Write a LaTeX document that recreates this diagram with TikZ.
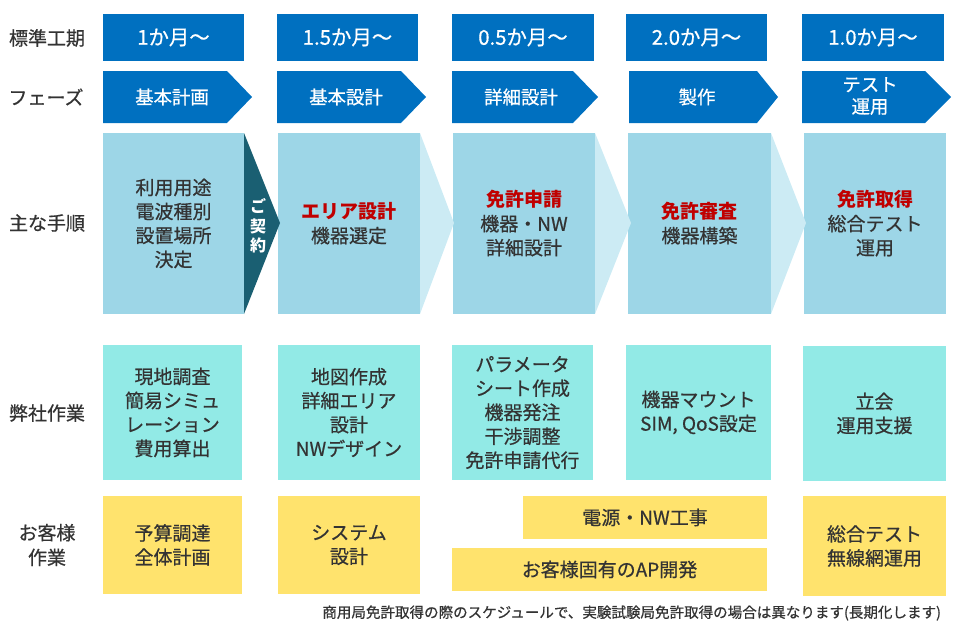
\documentclass[tikz,border=0pt]{standalone}
\usepackage{fontspec}
\setmainfont{Noto Sans CJK JP}[UprightFeatures={FakeBold=0.6}]
\definecolor{cblue}{HTML}{0070C0}
\definecolor{cmain}{HTML}{9DD6E7}
\definecolor{clight}{HTML}{CCEBF4}
\definecolor{cdark}{HTML}{1A5F72}
\definecolor{ccyan}{HTML}{92EAE6}
\definecolor{cyel}{HTML}{FFE36D}
\definecolor{cred}{HTML}{C00000}
\definecolor{ctxt}{HTML}{333333}
\newcommand\fsMain{\fontsize{14.25pt}{18pt}\selectfont}
\newcommand\fsHdr{\fontsize{15.3pt}{18pt}\selectfont}
\newcommand\fsPhase{\fontsize{13.8pt}{16.5pt}\selectfont}
\newcommand\fsNote{\fontsize{10.9pt}{13pt}\selectfont}
\newcommand\fsSign{\fontsize{12pt}{14.6pt}\selectfont}
\newcommand\rbox[7]{\node[#1, minimum width={(#4-#3)*0.75pt}, minimum height={(#6-#5)*0.75pt}] (#2) at ({(#3+#4)/2},{(#5+#6)/2}) {#7};}
\newcommand\phasearrow[3]{\fill[cblue] (#1,71) -- (#2,71) -- (#3,97) -- (#2,123) -- (#1,123) -- cycle;}
\tikzset{
  base/.style={inner sep=0pt, outer sep=0pt, align=center},
  hdrbox/.style={base, fill=cblue, text=white, font=\fsHdr},
  mainbox/.style={base, fill=cmain, text=ctxt, font=\fsMain},
  workbox/.style={base, fill=ccyan, text=ctxt, font=\fsMain},
  custbox/.style={base, fill=cyel, text=ctxt, font=\fsMain},
  phasetext/.style={base, text=white, font=\fsPhase},
  rowlabel/.style={base, text=ctxt, font=\fsMain}
}
\begin{document}
\begin{tikzpicture}[x=0.75pt,y=-0.75pt]
\useasboundingbox (0,0) rectangle (960,632);
% row labels
\node[rowlabel] (l1) at (47,38) {標準工期};
\node[rowlabel] (l2) at (46,97) {フェーズ};
\node[rowlabel] (l3) at (47,223) {主な手順};
\node[rowlabel] (l4) at (47,413) {弊社作業};
\node[rowlabel, font=\fontsize{14.25pt}{18.5pt}\selectfont] (l5) at (47,545) {お客様\\作業};
% row 1
\rbox{hdrbox}{t1}{103}{244}{14}{61}{1か月〜}
\rbox{hdrbox}{t2}{277}{418}{14}{61}{1.5か月〜}
\rbox{hdrbox}{t3}{452}{594}{14}{61}{0.5か月〜}
\rbox{hdrbox}{t4}{626}{767}{14}{61}{2.0か月〜}
\rbox{hdrbox}{t5}{802}{944}{14}{61}{1.0か月〜}
% row 2 phases
\phasearrow{103}{227}{252}
\phasearrow{277}{401}{426}
\phasearrow{452}{573}{598}
\phasearrow{629}{757}{778}
\phasearrow{802}{925}{951}
\node[phasetext] (p1) at (172,97) {基本計画};
\node[phasetext] (p2) at (346,97) {基本設計};
\node[phasetext] (p3) at (521,97) {詳細設計};
\node[phasetext] (p4) at (697,97) {製作};
\node[phasetext] (p5) at (870,96) {テスト\\運用};
% row 3 main steps
\rbox{mainbox}{m1}{103}{244}{133}{314}{利用用途\\電波種別\\設置場所\\決定}
\rbox{mainbox}{m2}{278}{420}{133}{314}{{\color{cred}\bfseries エリア設計}\\機器選定}
\rbox{mainbox}{m3}{453}{595}{133}{314}{{\color{cred}\bfseries 免許申請}\\機器・NW\\詳細設計}
\rbox{mainbox}{m4}{628}{771}{133}{314}{{\color{cred}\bfseries 免許審査}\\機器構築}
\rbox{mainbox}{m5}{804}{946}{133}{314}{{\color{cred}\bfseries 免許取得}\\総合テスト\\運用}
\fill[clight] (m2.north east) -- (454,223) -- (m2.south east) -- cycle;
\fill[clight] (m3.north east) -- (631,223) -- (m3.south east) -- cycle;
\fill[clight] (m4.north east) -- (806,223) -- (m4.south east) -- cycle;
\fill[cdark] (m1.north east) -- (280,223) -- (m1.south east) -- cycle;
\node[base, text=white, font=\fsSign\bfseries] (sign) at (258,226) {ご\\契\\約};
% row 4 our work
\rbox{workbox}{w1}{103}{242}{345}{480}{現地調査\\簡易シミュ\\レーション\\費用算出}
\rbox{workbox}{w2}{278}{420}{345}{480}{地図作成\\詳細エリア\\設計\\NWデザイン}
\rbox{workbox}{w3}{452}{593}{345}{480}{パラメータ\\シート作成\\機器発注\\干渉調整\\免許申請代行}
\rbox{workbox}{w4}{626}{771}{345}{480}{機器マウント\\SIM, QoS設定}
\rbox{workbox}{w5}{803}{946}{346}{481}{立会\\運用支援}
% row 5 customer work
\rbox{custbox}{c1}{103}{242}{496}{594}{予算調達\\全体計画}
\rbox{custbox}{c2}{278}{420}{496}{594}{システム\\設計}
\rbox{custbox}{c3}{523}{767}{496}{539}{電源・NW工事}
\rbox{custbox}{c4}{452}{767}{548}{591}{お客様固有のAP開発}
\rbox{custbox}{c5}{803}{946}{496}{596}{総合テスト\\無線網運用}
% footnote
\node[base, text=ctxt, font=\fsNote, anchor=east] (note) at (941,613) {商用局免許取得の際のスケジュールで、実験試験局免許取得の場合は異なります(長期化します)};
\end{tikzpicture}
\end{document}
